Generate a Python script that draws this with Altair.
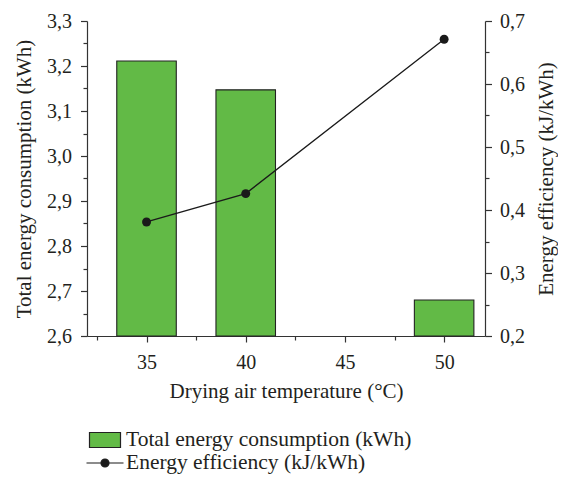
import altair as alt
import pandas as pd

# ---- data ----
temps = [35, 40, 50]
energy = [3.211, 3.147, 2.68]
efficiency = [0.381, 0.426, 0.671]
series = ["Total energy consumption (kWh)", "Energy efficiency (kJ/kWh)"]
x_ticks = [32.5, 35, 37.5, 40, 42.5, 45, 47.5, 50]
y_left_ticks = [2.6, 2.65, 2.7, 2.75, 2.8, 2.85, 2.9, 2.95, 3.0, 3.05, 3.1, 3.15, 3.2, 3.25, 3.3]
y_right_ticks = [0.2, 0.25, 0.3, 0.35, 0.4, 0.45, 0.5, 0.55, 0.6, 0.65, 0.7]

bar_df = pd.DataFrame({"temp": temps, "energy": energy})
line_df = pd.DataFrame({"temp": temps, "eff": efficiency})
legend_df = pd.DataFrame({"series": series})

FONT = "Liberation Serif"
TXT = "#231f20"
AX = "#333333"
GREEN = "#62ba46"

major_y = "abs(datum.value*10 - round(datum.value*10)) < 0.001"
lab_y = f"{major_y} ? replace(format(datum.value, '.1f'), '.', ',') : ''"

x_scale = alt.Scale(domain=[32, 52.06], nice=False, zero=False)

bars = alt.Chart(bar_df).transform_calculate(
    x0="datum.temp - 1.5", x1="datum.temp + 1.5"
).mark_bar(fill=GREEN, stroke="#222222", strokeWidth=1.1).encode(
    x=alt.X("x0:Q", scale=x_scale, title="Drying air temperature (°C)",
            axis=alt.Axis(values=x_ticks,
                          labelExpr="datum.value % 5 == 0 ? datum.label : ''",
                          tickSize={"condition": {"test": "datum.value % 5 == 0", "value": 6}, "value": 4},
                          labelPadding=10.5,
                          titleBaseline="top", titleY=44.5)),
    x2="x1:Q",
    y=alt.Y("energy:Q", scale=alt.Scale(domain=[2.6, 3.3], nice=False, zero=False),
            title="Total energy consumption (kWh)",
            axis=alt.Axis(orient="left", values=y_left_ticks, labelExpr=lab_y,
                          tickSize={"condition": {"test": major_y, "value": 6.5}, "value": 4},
                          labelPadding=9,
                          titleAngle=270, titleBaseline="top", titleX=-73.5)),
    y2=alt.datum(2.6),
)

line = alt.Chart(line_df).mark_line(
    color="#1a1a1a", strokeWidth=1.3,
    point=alt.OverlayMarkDef(filled=True, size=80, color="#1a1a1a", opacity=1),
).encode(
    x=alt.X("temp:Q", scale=x_scale),
    y=alt.Y("eff:Q", scale=alt.Scale(domain=[0.2, 0.7], nice=False, zero=False),
            title="Energy efficiency (kJ/kWh)",
            axis=alt.Axis(orient="right", values=y_right_ticks, labelExpr=lab_y,
                          tickSize={"condition": {"test": major_y, "value": 6.5}, "value": 4},
                          labelPadding=8,
                          titleAngle=270, titleBaseline="top", titleX=50)),
)

rect_path = "M-1.55,-0.75L1.55,-0.75L1.55,0.75L-1.55,0.75Z"
dot_path = "M-1.85,0L1.85,0M-0.4,0A0.4,0.4,0,1,1,0.4,0A0.4,0.4,0,1,1,-0.4,0Z"

legend_layer = alt.Chart(legend_df).mark_point(filled=True, size=0, opacity=1, strokeWidth=1.2).encode(
    fill=alt.Fill("series:N", scale=alt.Scale(domain=series, range=[GREEN, "#1a1a1a"]),
                  legend=alt.Legend(orient="none", legendX=7, legendY=408, title=None,
                                    direction="vertical", symbolSize=400, symbolOpacity=1,
                                    symbolStrokeWidth=1.2, labelFont=FONT, labelFontSize=21.5,
                                    labelColor=TXT, labelOffset=10, rowPadding=1, labelLimit=0)),
    stroke=alt.Stroke("series:N", scale=alt.Scale(domain=series, range=["#222222", "#1a1a1a"])),
    shape=alt.Shape("series:N", scale=alt.Scale(domain=series, range=[rect_path, dot_path])),
)

chart = alt.layer(bars, line, legend_layer).resolve_scale(
    y="independent"
).properties(
    width=398, height=315,
    autosize=alt.AutoSizeParams(type="none"),
    padding={"left": 79, "top": 13, "right": 73, "bottom": 138},
).configure_view(
    stroke=None
).configure_axis(
    labelFont=FONT, labelFontSize=20, labelColor=TXT,
    titleFont=FONT, titleFontSize=21, titleColor=TXT, titleFontWeight="normal",
    domainColor=AX, domainWidth=1.2, tickColor=AX, tickWidth=1.2, grid=False,
)

chart.save("out.html", embed_options={"renderer": "svg", "actions": False})
